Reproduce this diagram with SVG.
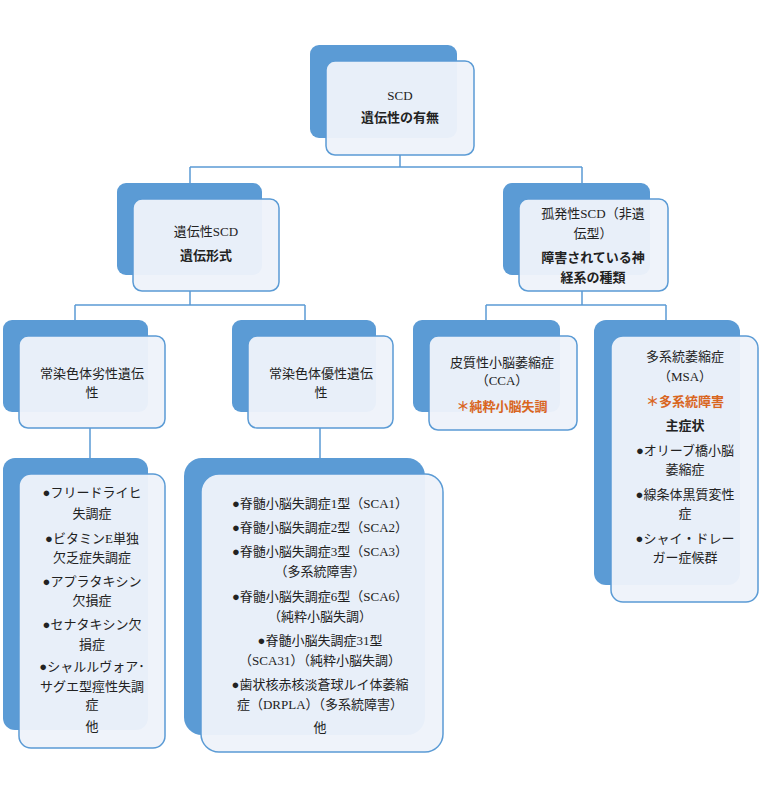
<svg xmlns="http://www.w3.org/2000/svg" width="759" height="800" viewBox="0 0 759 800">
<style>
.b{fill:#5b9bd5}
.f{fill:#eef3fa;fill-opacity:0.96;stroke:#5b9bd5;stroke-width:1.5}
text{font-family:"Liberation Serif","Noto Sans CJK JP",serif;font-size:13px;fill:#222;text-anchor:middle}
.bd{font-weight:bold}
.o{fill:#d9661f;font-weight:bold}
.c{fill:none;stroke:#5b9bd5;stroke-width:1.5}
</style>
<rect width="759" height="800" fill="#fff"/>
<g id="connectors">
<path class="c" d="M400 155V167M190 167H582M190 167V183M582 167V183M190 291V305M75 305H305M75 305V320M305 305V320M582 291V305M486 305H666M486 305V320M666 305V320M90 428V458M320 428V458"/>
</g>
<g id="n1"><rect class="b" x="310" y="45" width="147" height="93" rx="9"/><rect class="f" x="326" y="61" width="148" height="94" rx="9"/>
<text x="400" y="100">SCD</text><text class="bd" x="400" y="122">遺伝性の有無</text></g>
<g id="n2"><rect class="b" x="117" y="183" width="145" height="92" rx="9"/><rect class="f" x="133" y="199" width="146" height="92" rx="9"/>
<text x="206" y="236">遺伝性SCD</text><text class="bd" x="206" y="260">遺伝形式</text></g>
<g id="n3"><rect class="b" x="503" y="183" width="147" height="92" rx="9"/><rect class="f" x="519" y="199" width="149" height="92" rx="9"/>
<text x="593" y="218">孤発性SCD（非遺</text><text x="593" y="238">伝型）</text><text class="bd" x="593" y="262">障害されている神</text><text class="bd" x="593" y="282">経系の種類</text></g>
<g id="n4"><rect class="b" x="3" y="320" width="145" height="92" rx="9"/><rect class="f" x="19" y="336" width="146" height="92" rx="9"/>
<text x="92" y="378">常染色体劣性遺伝</text><text x="92" y="397">性</text></g>
<g id="n5"><rect class="b" x="232" y="320" width="144" height="92" rx="9"/><rect class="f" x="248" y="336" width="145" height="92" rx="9"/>
<text x="321" y="378">常染色体優性遺伝</text><text x="321" y="397">性</text></g>
<g id="n6"><rect class="b" x="413" y="320" width="147" height="92" rx="9"/><rect class="f" x="429" y="336" width="148" height="94" rx="9"/>
<text x="502" y="367">皮質性小脳萎縮症</text><text x="502" y="385">（CCA）</text><text class="o" x="502" y="411">＊純粋小脳失調</text></g>
<g id="n7"><rect class="b" x="594" y="320" width="146" height="265" rx="12"/><rect class="f" x="611" y="336" width="147" height="266" rx="12"/>
<text x="685" y="361">多系統萎縮症</text><text x="685" y="381">（MSA）</text><text class="o" x="685" y="406">＊多系統障害</text><text class="bd" x="685" y="430">主症状</text>
<text x="685" y="455">●オリーブ橋小脳</text><text x="685" y="474">萎縮症</text><text x="685" y="499">●線条体黒質変性</text><text x="685" y="518">症</text><text x="685" y="543">●シャイ・ドレー</text><text x="685" y="562">ガー症候群</text></g>
<g id="n8"><rect class="b" x="3" y="458" width="145" height="272" rx="12"/><rect class="f" x="19" y="474" width="146" height="274" rx="12"/>
<text x="92" y="497">●フリードライヒ</text><text x="92" y="518">失調症</text><text x="92" y="543">●ビタミンE単独</text><text x="92" y="562">欠乏症失調症</text><text x="92" y="586">●アプラタキシン</text><text x="92" y="605">欠損症</text><text x="92" y="629">●セナタキシン欠</text><text x="92" y="649">損症</text><text x="92" y="671">●シャルルヴォア･</text><text x="92" y="691">サグエ型痙性失調</text><text x="92" y="709">症</text><text x="92" y="731">他</text></g>
<g id="n9"><rect class="b" x="184" y="458" width="241" height="277" rx="18"/><rect class="f" x="201" y="474" width="242" height="278" rx="18"/>
<text x="320" y="508">●脊髄小脳失調症1型（SCA1）</text><text x="320" y="532">●脊髄小脳失調症2型（SCA2）</text><text x="320" y="556">●脊髄小脳失調症3型（SCA3）</text><text x="320" y="576">（多系統障害）</text><text x="320" y="601">●脊髄小脳失調症6型（SCA6）</text><text x="320" y="621">（純粋小脳失調）</text><text x="320" y="645">●脊髄小脳失調症31型</text><text x="320" y="665">（SCA31）（純粋小脳失調）</text><text x="320" y="689">●歯状核赤核淡蒼球ルイ体萎縮</text><text x="320" y="709">症（DRPLA）（多系統障害）</text><text x="320" y="732">他</text></g>
</svg>
